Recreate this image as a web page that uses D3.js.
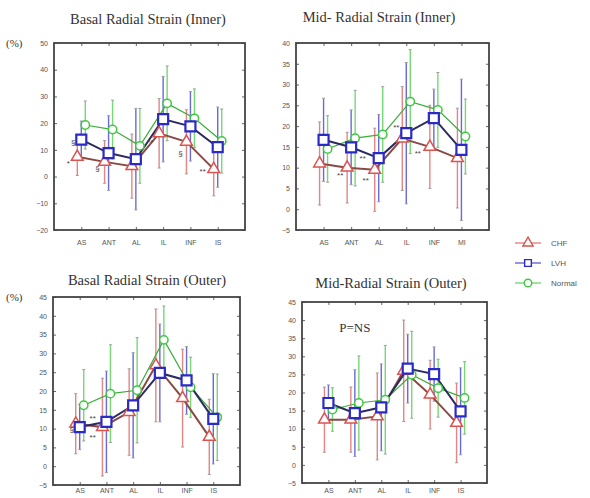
<!DOCTYPE html>
<html>
<head>
<meta charset="utf-8">
<script src="https://cdn.jsdelivr.net/npm/d3@7"></script>
<style>
  body { margin: 0; background: #fff; }
  svg { display: block; }
  .tick-label { font-family: "Liberation Sans", Arial, sans-serif; font-size: 7px; fill: #555; }
  .title { font-family: "Liberation Serif", "Times New Roman", serif; font-size: 14.5px; fill: #333; }
  .legend text { font-family: "Liberation Sans", Arial, sans-serif; font-size: 8px; fill: #555; }
</style>
</head>
<body>
<div id="chart"></div>
<script>
// categories and series
const series = ["CHF", "LVH", "Normal"];
const catsBasal = ["AS", "ANT", "AL", "IL", "INF", "IS"];
const catsMid = ["AS", "ANT", "AL", "IL", "INF", "MI"];

// Basal radial strain (inner)
const biCHF = [7.4, 5.5, 3.9, 16.2, 13.0, 2.8];
const biCHFsd = [7, 8, 12, 13, 12, 10];
const biLVH = [13.8, 8.8, 6.5, 21.5, 18.8, 11.0];
const biLVHsd = [7, 14, 19, 16, 13, 15];
const biNormal = [19.3, 17.6, 11.5, 27.4, 21.8, 13.3];
const biNormalsd = [9, 11, 14, 14, 11, 12];

// Mid radial strain (inner)
const miCHF = [11.0, 10.0, 9.5, 17.0, 15.0, 12.3];
const miCHFsd = [10, 8.5, 10, 12.5, 10, 12];
const miLVH = [16.7, 14.9, 12.3, 18.3, 21.9, 14.3];
const miLVHsd = [10, 9, 10.5, 17, 7, 17];
const miNormal = [14.5, 17.1, 18.0, 25.9, 23.9, 17.5];
const miNormalsd = [8, 11.5, 11.5, 12.5, 9, 9];

// Basal radial strain (outer)
const boCHF = [11.3, 10.4, 14.4, 26.8, 18.1, 7.8];
const boCHFsd = [8, 13, 11.5, 15, 13, 10];
const boLVH = [10.4, 11.8, 16.2, 24.8, 22.8, 12.6];
const boLVHsd = [6, 13.5, 14, 13, 9, 12];
const boNormal = [16.2, 19.3, 20.2, 33.6, 21.0, 13.0];
const boNormalsd = [9.5, 13, 14, 9, 8, 11.5];

// Mid radial strain (outer)
const moCHF = [12.5, 12.5, 13.4, 26.0, 19.4, 11.6];
const moCHFsd = [9, 9, 12, 14, 9.5, 11];
const moLVH = [17.1, 14.3, 15.9, 26.6, 25.1, 14.8];
const moLVHsd = [5, 12, 12, 9.5, 7.5, 12];
const moNormal = [15.3, 17.1, 18.0, 24.9, 21.2, 18.5];
const moNormalsd = [6, 13, 15, 12, 8, 10];

// y ticks
const ticksBI = d3.range(-20, 51, 10);
const ticksMI = d3.range(-5, 41, 5);
const ticksBO = d3.range(-5, 46, 5);
const ticksMO = d3.range(-5, 46, 5);

// annotations: [text, category, value, dx]
const notesBI = [["*", "AS", 5.1, -13], ["§", "AS", 12.9, -8], ["§", "ANT", 3.2, -11],
                 ["**", "IL", 12.9, -13], ["§", "INF", 8.8, -10], ["**", "IS", 2.1, -15]];
const notesMI = [["**", "IL", 19.8, -10], ["**", "INF", 13.5, -16], ["**", "AL", 12.3, -16],
                 ["**", "ANT", 8.2, -11], ["**", "AL", 7.0, -13]];
const notesBO = [["**", "AS", 12.8, 13], ["**", "AS", 7.8, 13], ["§", "AS", 9.9, -8]];

const colors = { CHF: "#d9534f", LVH: "#2a2ac8", Normal: "#3fc83f" };
const lineColors = { CHF: "#8a4a44", LVH: "#2b2b5e", Normal: "#3cae3c" };
const symbols = { CHF: d3.symbolTriangle, LVH: d3.symbolSquare, Normal: d3.symbolCircle };
const symSize = { CHF: 60, LVH: 100, Normal: 55 };

const W = 590, H = 498;
const svg = d3.select("#chart").append("svg")
  .attr("width", W).attr("height", H)
  .attr("viewBox", `0 0 ${W} ${H}`);

const panels = [
  { title: "Basal Radial Strain (Inner)", titleX: 148, titleY: 24, pct: true, pad: 10,
    box: [54, 245, 43, 230], dom: [-20, 50], ticks: ticksBI, cats: catsBasal,
    mean: { CHF: biCHF, LVH: biLVH, Normal: biNormal },
    sd: { CHF: biCHFsd, LVH: biLVHsd, Normal: biNormalsd }, notes: notesBI },
  { title: "Mid- Radial Strain (Inner)", titleX: 379, titleY: 22, pct: false, pad: 10,
    box: [296, 489, 43, 230], dom: [-5, 40], ticks: ticksMI, cats: catsMid,
    mean: { CHF: miCHF, LVH: miLVH, Normal: miNormal },
    sd: { CHF: miCHFsd, LVH: miLVHsd, Normal: miNormalsd }, notes: notesMI },
  { title: "Basal Radial Strain (Outer)", titleX: 147, titleY: 285, pct: true, pad: 3,
    box: [53, 240, 297, 485], dom: [-5, 45], ticks: ticksBO, cats: catsBasal,
    mean: { CHF: boCHF, LVH: boLVH, Normal: boNormal },
    sd: { CHF: boCHFsd, LVH: boLVHsd, Normal: boNormalsd }, notes: notesBO },
  { title: "Mid-Radial Strain (Outer)", titleX: 391, titleY: 288, pct: false, pad: 5,
    box: [302, 487, 302, 483], dom: [-5, 45], ticks: ticksMO, cats: catsBasal,
    mean: { CHF: moCHF, LVH: moLVH, Normal: moNormal },
    sd: { CHF: moCHFsd, LVH: moLVHsd, Normal: moNormalsd }, notes: [], pns: true }
];

const offset = d3.scalePoint().domain(series).range([-4, 4]);

panels.forEach(p => {
  const [l, r, t, b] = p.box;
  const x = d3.scalePoint().domain(p.cats).range([l, r]).padding(1);
  const y = d3.scaleLinear().domain(p.dom).range([b, t]);
  const g = svg.append("g");

  // title
  g.append("text").attr("class", "title")
    .attr("x", p.titleX).attr("y", p.titleY)
    .attr("text-anchor", "middle").text(p.title);
  if (p.pct) {
    g.append("text").attr("class", "title")
      .attr("x", 6).attr("y", t + 4)
      .style("font-size", "11px").text("(%)");
  }

  // axes (ticks inward on all four sides)
  const left = d3.axisLeft(y).tickValues(p.ticks).tickSize(-3).tickPadding(6);
  const right = d3.axisRight(y).tickValues(p.ticks).tickSize(-3).tickFormat("");
  const bottom = d3.axisBottom(x).tickSize(-3).tickPadding(p.pad);
  const top = d3.axisTop(x).tickSize(-3).tickFormat("");
  [[left, `translate(${l},0)`], [right, `translate(${r},0)`],
   [bottom, `translate(0,${b})`], [top, `translate(0,${t})`]].forEach(([ax, tr]) => {
    const a = g.append("g").attr("transform", tr).call(ax);
    a.select(".domain").remove();
    a.selectAll("line").attr("stroke", "#666");
    a.selectAll("text").attr("class", "tick-label").attr("fill", null);
  });

  // error bars
  series.forEach(s => {
    const xs = c => x(c) + offset(s);
    const eg = g.append("g").attr("stroke", colors[s]).attr("stroke-width", 1.4)
      .attr("opacity", 0.7);
    eg.selectAll("line.bar").data(p.cats).join("line").attr("class", "bar")
      .attr("x1", xs).attr("x2", xs)
      .attr("y1", (c, i) => y(p.mean[s][i] + p.sd[s][i]))
      .attr("y2", (c, i) => y(p.mean[s][i] - p.sd[s][i]));
    ["hi", "lo"].forEach(k => {
      eg.selectAll("line.cap" + k).data(p.cats).join("line").attr("class", "cap" + k)
        .attr("stroke", "#777").attr("stroke-width", 1)
        .attr("x1", c => xs(c) - 1.5).attr("x2", c => xs(c) + 1.5)
        .attr("y1", (c, i) => y(p.mean[s][i] + (k === "hi" ? 1 : -1) * p.sd[s][i]))
        .attr("y2", (c, i) => y(p.mean[s][i] + (k === "hi" ? 1 : -1) * p.sd[s][i]));
    });
  });

  // lines and markers
  ["Normal", "CHF", "LVH"].forEach(s => {
    const line = d3.line()
      .x((c) => x(c) + offset(s))
      .y((c, i) => y(p.mean[s][i]));
    g.append("path").datum(p.cats)
      .attr("fill", "none")
      .attr("stroke", lineColors[s])
      .attr("stroke-width", s === "Normal" ? 1.2 : 2)
      .attr("d", line);
  });
  ["Normal", "CHF", "LVH"].forEach(s => {
    g.selectAll("path.m" + s).data(p.cats).join("path").attr("class", "m" + s)
      .attr("transform", (c, i) => `translate(${x(c) + offset(s)},${y(p.mean[s][i])})`)
      .attr("d", d3.symbol().type(symbols[s]).size(symSize[s]))
      .attr("fill", "#fff")
      .attr("stroke", colors[s])
      .attr("stroke-width", s === "LVH" ? 2.2 : 1.5);
  });

  // significance marks
  g.selectAll("text.note").data(p.notes).join("text").attr("class", "note")
    .attr("x", d => x(d[1]) + d[3])
    .attr("y", d => y(d[2]))
    .attr("dy", "0.35em")
    .attr("text-anchor", "middle")
    .style("font-family", "Liberation Sans, Arial, sans-serif")
    .style("font-size", "8px")
    .attr("fill", "#444")
    .text(d => d[0]);

  if (p.pns) {
    g.append("text").attr("class", "title")
      .attr("x", x("ANT")).attr("y", y(38))
      .attr("dy", "0.35em").attr("text-anchor", "middle")
      .style("font-size", "13px").text("P=NS");
  }

  // frame
  g.append("rect").attr("x", l).attr("y", t)
    .attr("width", r - l).attr("height", b - t)
    .attr("fill", "none").attr("stroke", "#444").attr("stroke-width", 1.8);
});

// legend
const legendY = d3.scalePoint().domain(series).range([243, 283]);
const lg = svg.append("g").attr("class", "legend");
series.forEach(s => {
  const yy = legendY(s);
  lg.append("line").attr("x1", 515).attr("x2", 541).attr("y1", yy).attr("y2", yy)
    .attr("stroke", colors[s]).attr("stroke-width", 1);
  lg.append("path").attr("transform", `translate(528,${yy})`)
    .attr("d", d3.symbol().type(symbols[s]).size(45))
    .attr("fill", "#fff").attr("stroke", colors[s]).attr("stroke-width", 1.4);
  lg.append("text").attr("x", 551).attr("y", yy).attr("dy", "0.35em").text(s);
});
</script>
</body>
</html>
